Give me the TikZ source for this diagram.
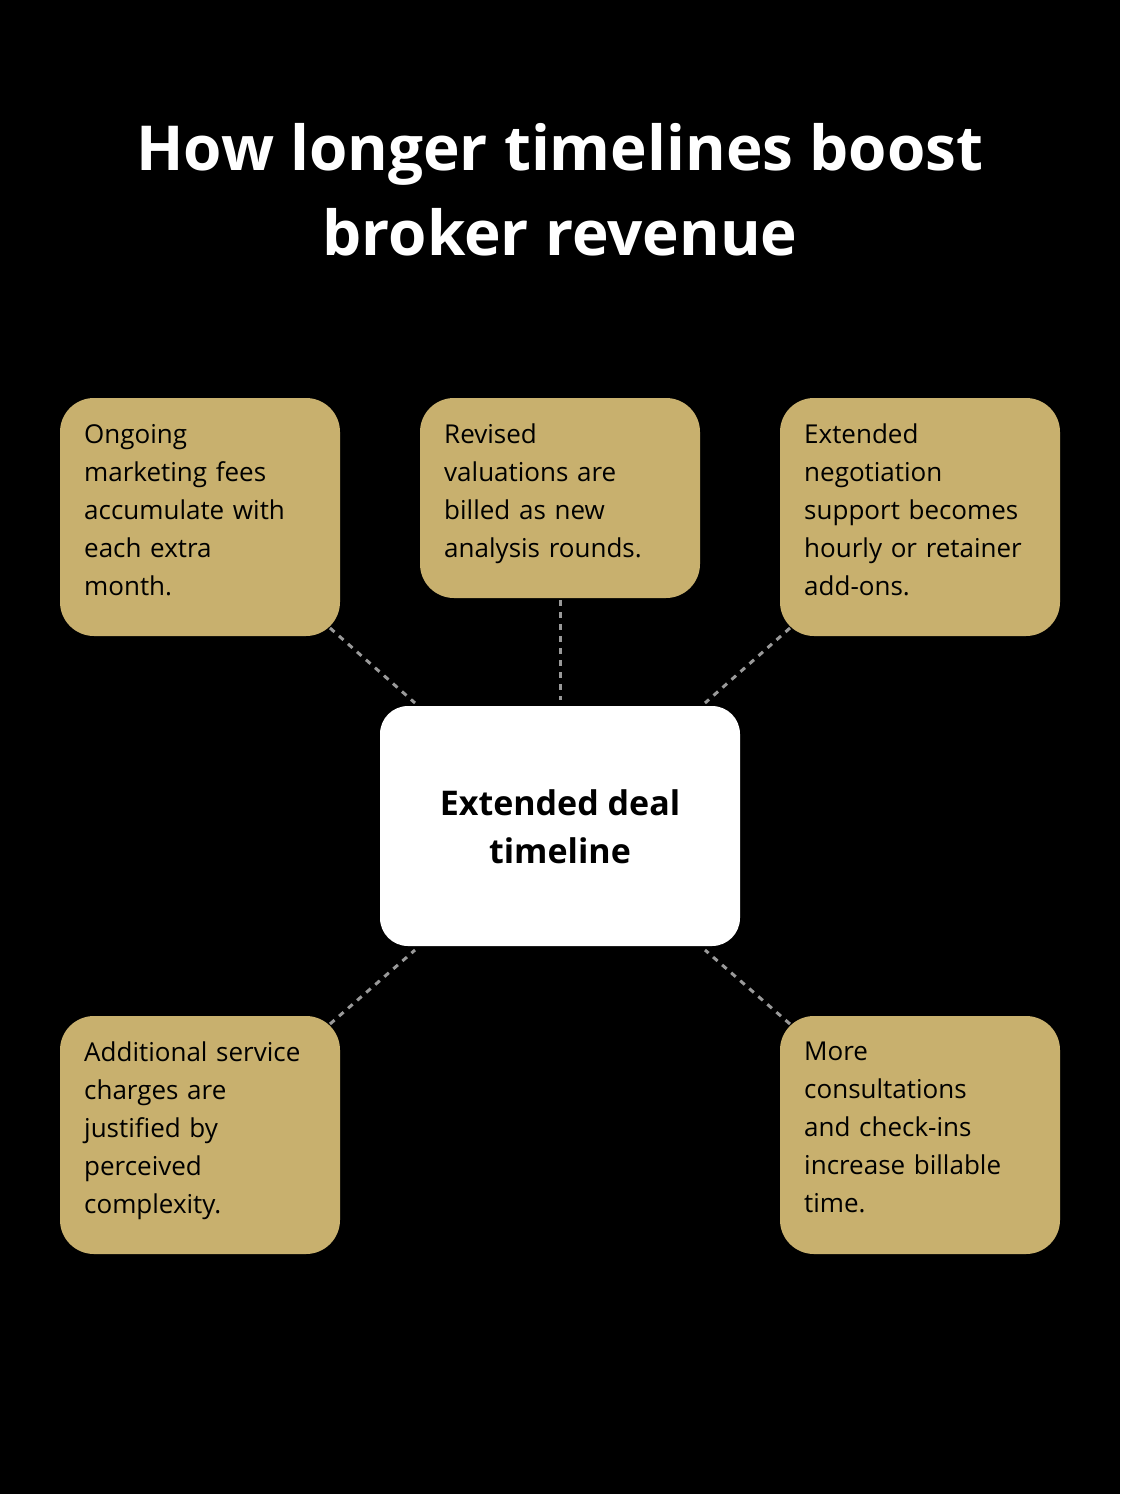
\documentclass[tikz,border=0pt]{standalone}
\usepackage{fontspec}
\setmainfont{Open Sans}
\usetikzlibrary{calc}
\definecolor{gold}{HTML}{C8B06E}
\begin{document}
\begin{tikzpicture}[x=1pt,y=-1pt,
  box/.style={fill=gold,rounded corners=34pt,draw=none},
  txt/.style={anchor=north west,align=left,text width=250pt,inner sep=0pt,font=\fontsize{26}{38}\selectfont},
  link/.style={draw=gray!80,line width=3pt,dash pattern=on 6pt off 6pt}]
\fill[black] (0,0) rectangle (1120,1494);
\node[text=white,align=center,font=\fontsize{62}{85}\selectfont\bfseries] (title) at (560,190) {How longer timelines boost\\broker revenue};
\fill[box] (60,398) rectangle (340,636);
\fill[box] (420,398) rectangle (700,598);
\fill[box] (780,398) rectangle (1060,636);
\fill[box] (60,1016) rectangle (340,1254);
\fill[box] (780,1016) rectangle (1060,1254);
\fill[white,rounded corners=28pt] (380,706) rectangle (740,946);
\node[txt] (a) at (84,424) {Ongoing\\marketing fees\\accumulate with\\each extra\\month.};
\node[txt] (b) at (444,424) {Revised\\valuations are\\billed as new\\analysis rounds.};
\node[txt] (c) at (804,424) {Extended\\negotiation\\support becomes\\hourly or retainer\\add-ons.};
\node[txt] (d) at (84,1042) {Additional service\\charges are\\justified by\\perceived\\complexity.};
\node[txt] (e) at (804,1042) {More\\consultations\\and check-ins\\increase billable\\time.};
\node[align=center,font=\fontsize{34}{48}\selectfont\bfseries] (m) at (560,827) {Extended deal\\timeline};
\coordinate (a1) at (330,628); \coordinate (a2) at (415,703);
\coordinate (b1) at (560,600); \coordinate (b2) at (560,700);
\coordinate (c1) at (790,628); \coordinate (c2) at (705,703);
\coordinate (d1) at (330,1024); \coordinate (d2) at (415,950);
\coordinate (e1) at (790,1024); \coordinate (e2) at (705,950);
\draw[link] (a1) -- (a2);
\draw[link] (b1) -- (b2);
\draw[link] (c1) -- (c2);
\draw[link] (d1) -- (d2);
\draw[link] (e1) -- (e2);
\end{tikzpicture}
\end{document}
